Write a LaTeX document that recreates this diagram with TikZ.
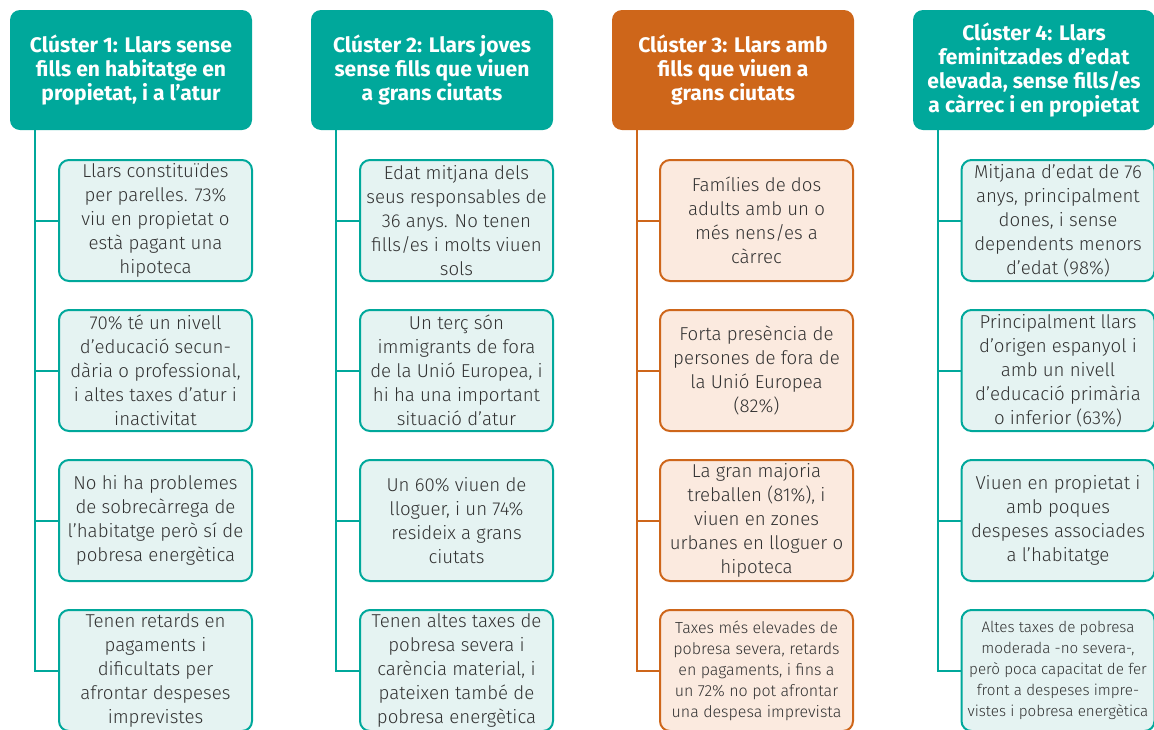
\documentclass[tikz,border=0pt]{standalone}
\usepackage{fontspec}
\setmainfont{Fira Sans Light}[BoldFont={Fira Sans Bold}]
\usetikzlibrary{positioning}

\definecolor{cteal}{RGB}{0,168,155}
\definecolor{ctealbg}{RGB}{229,243,242}
\definecolor{corange}{RGB}{206,102,26}
\definecolor{corangebg}{RGB}{251,234,223}
\definecolor{itemtext}{RGB}{50,50,50}

\begin{document}
\begin{tikzpicture}[
        x=0.75pt, y=-0.75pt,
        cluster head/.style={rectangle, rounded corners=7.5pt, fill=#1, text=white, font=\bfseries\fontsize{15.8}{18}\selectfont, align=center, minimum width=181.5pt, minimum height=90pt, inner sep=0pt},
        cluster item/.style={rectangle, rounded corners=7.5pt, draw=#1, line width=1.5pt, fill=#1bg, text=itemtext, font=\fontsize{14}{18}\selectfont, align=center, minimum width=144.75pt, minimum height=90.75pt, inner sep=0pt},
        small item/.style={cluster item=#1, font=\fontsize{12}{15.75}\selectfont},
        trunk/.style={draw=#1, line width=1.5pt}
    ]
        \useasboundingbox (0,0) rectangle (1154,729);

        % Cluster 1
        \node[cluster head=cteal] (H1) at (131,70) {Clúster 1: Llars sense\\fills en habitatge en\\propietat, i a l’atur};
        \foreach \row/\txt in {1/{Llars constituïdes\\per parelles. 73\%\\viu en propietat o\\està pagant una\\hipoteca},
                               2/{70\% té un nivell\\d'educació secun-\\dària o professional,\\i altes taxes d’atur i\\inactivitat},
                               3/{No hi ha problemes\\de sobrecàrrega de\\l’habitatge però sí de\\pobresa energètica},
                               4/{Tenen retards en\\pagaments i\\dificultats per\\afrontar despeses\\imprevistes}}
        {
            \node[cluster item=cteal] (I1-\row) at (155.5,70.5+150*\row) {\txt};
        }

        % Cluster 2
        \node[cluster head=cteal] (H2) at (432,70) {Clúster 2: Llars joves\\sense fills que viuen\\a grans ciutats};
        \foreach \row/\txt in {1/{Edat mitjana dels\\seus responsables de\\36 anys. No tenen\\fills/es i molts viuen\\sols},
                               2/{Un terç són\\immigrants de fora\\de la Unió Europea, i\\hi ha una important\\situació d’atur},
                               3/{Un 60\% viuen de\\lloguer, i un 74\%\\resideix a grans\\ciutats},
                               4/{Tenen altes taxes de\\pobresa severa i\\carència material, i\\pateixen també de\\pobresa energètica}}
        {
            \node[cluster item=cteal] (I2-\row) at (456.5,70.5+150*\row) {\txt};
        }

        % Cluster 3
        \node[cluster head=corange] (H3) at (733,70) {Clúster 3: Llars amb\\fills que viuen a\\grans ciutats};
        \foreach \row/\txt in {1/{Famílies de dos\\adults amb un o\\més nens/es a\\càrrec},
                               2/{Forta presència de\\persones de fora de\\la Unió Europea\\(82\%)},
                               3/{La gran majoria\\treballen (81\%), i\\viuen en zones\\urbanes en lloguer o\\hipoteca}}
        {
            \node[cluster item=corange] (I3-\row) at (756.5,70.5+150*\row) {\txt};
        }
        \node[small item=corange] (I3-4) at (756.5,670.5) {Taxes més elevades de\\pobresa severa, retards\\en pagaments, i fins a\\un 72\% no pot afrontar\\una despesa imprevista};

        % Cluster 4
        \node[cluster head=cteal] (H4) at (1034,70) {Clúster 4: Llars\\feminitzades d’edat\\elevada, sense fills/es\\a càrrec i en propietat};
        \foreach \row/\txt in {1/{Mitjana d’edat de 76\\anys, principalment\\dones, i sense\\dependents menors\\d’edat (98\%)},
                               2/{Principalment llars\\d’origen espanyol i\\amb un nivell\\d'educació primària\\o inferior (63\%)},
                               3/{Viuen en propietat i\\amb poques\\despeses associades\\a l’habitatge}}
        {
            \node[cluster item=cteal] (I4-\row) at (1058,70.5+150*\row) {\txt};
        }
        \node[small item=cteal, font=\fontsize{11.4}{15.75}\selectfont] (I4-4) at (1058,670.5) {Altes taxes de pobresa\\moderada -no severa-,\\però poca capacitat de fer\\front a despeses impre-\\vistes i pobresa energètica};

        % Trunks and branches
        \foreach \col/\clr in {1/cteal, 2/cteal, 3/corange, 4/cteal}
        {
            \path (H\col.south west) ++(25,0) coordinate (T\col);
            \draw[trunk=\clr] (T\col) |- (I\col-4.west);
            \foreach \row in {1,2,3}
                \draw[trunk=\clr] (I\col-\row.west) -- (T\col |- I\col-\row.west);
        }

    \end{tikzpicture}
\end{document}
